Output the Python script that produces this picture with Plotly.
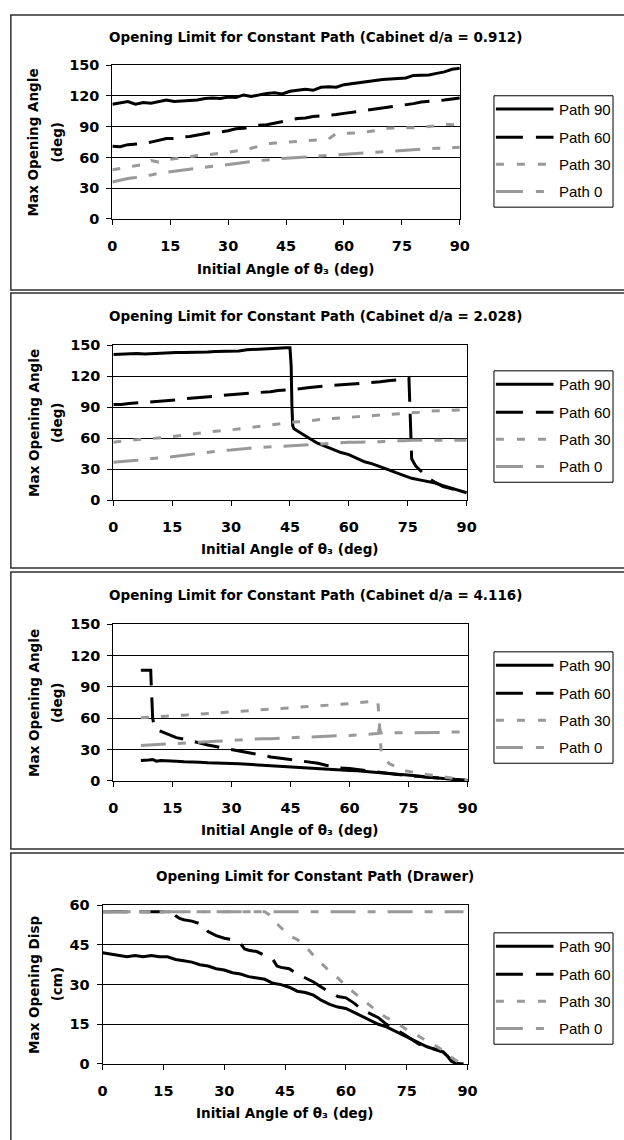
import plotly.graph_objects as go

# ---------------- data ----------------
grid2 = [0, 2, 4, 6, 8, 10, 12, 14, 16, 18, 20, 22, 24, 26, 28, 30, 32, 34, 36, 38, 40, 42, 44,
         46, 48, 50, 52, 54, 56, 58, 60, 62, 64, 66, 68, 70, 72, 74, 76, 78, 80, 82, 84, 86, 88, 90]

# Panel 1: Cabinet d/a = 0.912
p1_y90 = [112, 113, 114.5, 112, 113.5, 113, 114.5, 116, 114.5, 115, 115.5, 116, 117.5, 118, 117.5, 119,
          118.5, 121, 119.5, 121, 122.5, 123, 122, 124.5, 125.5, 126.5, 125.5, 128.5, 129, 128.5, 131, 132,
          133, 134.5, 135.5, 136, 136.5, 137, 137.5, 140, 140, 140.5, 142, 143.5, 146, 147]
p1_y60 = [71, 70.5, 72.5, 73, 73.5, 75, 76.5, 78.5, 78.5, 80, 80.5, 82, 83.5, 84.5, 85, 86, 88, 88.5, 90,
          91.5, 92, 93.5, 95, 97, 98, 98.5, 100, 100.5, 101, 102, 103, 104, 105.5, 106.5, 107, 108.5, 109,
          110, 111, 112.5, 114, 114.5, 115.5, 116, 117, 118]
p1_y30 = [48, 49, 50.5, 52, 53, 57, 55.5, 58, 58.5, 59.5, 60.5, 62, 62.5, 63, 64, 65, 66, 67.5, 69, 71,
          73, 74, 74.5, 75, 76, 76.5, 77, 77.5, 78, 83.5, 83.5, 84, 84, 85, 86, 88.5, 88.5, 88.5, 89, 89,
          89.5, 90, 91, 92.5, 92, 92.5]
p1_y0 = [36, 38, 39.5, 40.5, 41.5, 43, 44.5, 45.5, 46.5, 48, 49, 50, 51, 51.5, 52, 53, 54, 55.5, 56, 57,
         57.5, 58.5, 59, 59.5, 60, 61, 61.5, 62, 62.5, 63, 63.5, 64, 64.5, 65, 65.5, 66, 66.5, 67, 67.5, 68,
         68, 68.5, 69, 69, 69.5, 70]

# Panel 2: Cabinet d/a = 2.028
p2_x90 = [0, 2, 4, 6, 8, 10, 12, 14, 16, 18, 20, 22, 24, 26, 28, 30, 32, 34, 36, 38, 40, 42, 44, 45, 45.3,
          45.5, 45.7, 46, 48, 50, 52, 54, 56, 58, 60, 62, 64, 66, 68, 70, 72, 74, 76, 78, 80, 82, 84, 86,
          88, 90]
p2_y90 = [141, 141.5, 141.5, 142, 141.5, 142, 142, 142.5, 143, 143, 143, 143.5, 143.5, 144, 144, 144,
          144.5, 145.5, 146, 146.5, 146.5, 147, 147.5, 147.5, 130, 90, 72, 69, 64, 59.5, 55, 52, 48.5, 46,
          44, 40.5, 37, 35, 32.5, 29.5, 26.5, 23.5, 21, 19.5, 18, 16.5, 14, 11.5, 9, 7]
p2_x60 = [0, 2, 4, 6, 8, 10, 12, 14, 16, 18, 20, 22, 24, 26, 28, 30, 32, 34, 36, 38, 40, 42, 44, 46, 48,
          50, 52, 54, 56, 58, 60, 62, 64, 66, 68, 70, 72, 74, 75.3, 75.5, 75.7, 76, 77, 78, 80, 82, 84, 86,
          88, 90]
p2_y60 = [92.5, 92.5, 93.5, 94, 94.5, 95, 96, 96.5, 97, 98, 98.5, 99, 100, 100.5, 101.5, 102, 102.5,
          103.5, 104, 104.5, 105, 106, 106.5, 107, 108, 109, 110, 110.5, 111, 111.5, 112, 112.5, 113, 114,
          114.5, 115.5, 116, 117, 118.5, 90, 60, 40, 33, 29, 22, 17, 13, 11, 9, 7]
p2_y30 = [56, 57, 58, 58.5, 59, 59.5, 60, 61, 62, 63, 64, 65, 66, 66.5, 67.5, 68, 69, 70, 71, 71.5, 72.5,
          73.5, 74.5, 75.5, 76, 77, 77.5, 78.5, 79, 79.5, 80, 80.5, 81, 82, 82.5, 83, 83.5, 84, 84.5, 85, 86,
          86, 86.5, 87, 87, 87.5]
p2_y0 = [36.5, 37, 38, 38.5, 39.5, 40, 40.5, 41.5, 42.5, 43.5, 44.5, 45, 46, 47, 48, 48.5, 49.5, 50, 50.5,
         51, 51.5, 52, 52.5, 53, 53.5, 54, 54.5, 55, 55, 55.5, 56, 56, 56, 56.5, 56.5, 57, 57, 57.5, 58, 58,
         58.5, 58.5, 58, 58, 58, 58]

# Panel 3: Cabinet d/a = 4.116
p3_x90 = [7, 8, 9, 10, 11, 12, 14, 16, 18, 20, 22, 24, 26, 28, 30, 32, 34, 36, 38, 40, 42, 44, 46, 48, 50,
          52, 54, 56, 58, 60, 62, 64, 66, 68, 70, 72, 74, 76, 78, 80, 82, 84, 86, 88, 90]
p3_y90 = [19.5, 19.5, 20, 20.5, 19, 19.5, 19.5, 19, 18.5, 18.5, 18, 17.5, 17.5, 17, 16.8, 16.5, 16, 15.5,
          15, 14.5, 14, 13.5, 13, 12.5, 12, 12, 11.5, 11, 10.5, 10, 9.8, 9, 8.5, 8, 7, 6.5, 6, 5.5, 4.5, 3.5,
          3, 2.5, 1.8, 1, 0.5]
p3_x60 = [7, 9.5, 9.6, 9.7, 9.8, 10, 10.5, 12, 14, 16, 18, 20, 22, 24, 26, 28, 30, 32, 34, 36, 38, 40, 42,
          44, 46, 48, 50, 52, 54, 56, 58, 60, 62, 64, 66, 68, 70, 72, 74, 76, 78, 80, 82, 84, 86, 88, 90]
p3_y60 = [106, 106, 95, 85, 70, 60, 50, 47.5, 44.5, 41.5, 40, 38, 36, 34.5, 33, 31.5, 30, 29, 27.5, 26,
          24.5, 23, 22, 21, 20, 19, 18, 17, 15, 13.5, 12.5, 12, 11, 10, 9, 8, 7, 6, 5.5, 5, 4, 3.5, 3, 2.5,
          2, 1, 0.5]
p3_x30 = [7, 10, 12, 14, 16, 18, 20, 22, 24, 26, 28, 30, 32, 34, 36, 38, 40, 42, 44, 46, 48, 50, 52, 54,
          56, 58, 60, 62, 64, 66, 67.2, 67.5, 67.8, 68, 69, 70, 72, 74, 76, 78, 80, 82, 84, 86, 88, 90]
p3_y30 = [60.5, 61, 61.5, 62, 62.5, 63, 63.5, 64, 64.5, 65, 65.5, 66.5, 67, 67.5, 68, 68.5, 69, 69.5, 70,
          70.5, 71, 71.5, 72, 72.5, 73, 73.5, 74, 75, 75.5, 76, 76.5, 60, 40, 30, 22, 17, 13, 10, 8.5, 7, 6,
          5, 4, 3, 1.5, 0.5]
p3_x0 = [7, 10, 12, 14, 16, 18, 20, 22, 24, 26, 28, 30, 32, 34, 36, 38, 40, 42, 44, 46, 48, 50, 52, 54, 56,
         58, 60, 62, 64, 66, 67.3, 67.6, 67.9, 70, 72, 74, 76, 78, 80, 82, 84, 86, 88, 90]
p3_y0 = [34, 34.5, 35, 35.5, 36, 36.5, 36.5, 37, 37.5, 38, 38.5, 38.5, 39, 39.5, 40, 40.5, 40.5, 41, 41.5,
         41.5, 42, 42, 42.5, 43, 43, 43.5, 43.5, 44, 44.5, 45, 45.5, 52, 46, 46, 46, 46.5, 46.5, 46.5, 46.5,
         46.5, 46.5, 47, 47, 47]

# Panel 4: Drawer
p4_x90 = [0, 2, 4, 6, 8, 10, 12, 14, 16, 18, 20, 22, 24, 26, 28, 30, 32, 34, 36, 38, 40, 42, 44, 46, 48,
          50, 52, 54, 56, 58, 60, 62, 64, 66, 68, 70, 72, 74, 76, 78, 80, 82, 84, 85, 86, 87, 89]
p4_y90 = [42, 41.5, 41, 40.5, 41, 40.5, 41, 40.5, 40.5, 39.5, 39, 38.5, 37.5, 37, 36, 35.5, 34.5, 34, 33,
          32.5, 32, 30.5, 30, 29, 27.5, 27, 26, 24, 22.5, 21.5, 21, 19.5, 18, 16.5, 15, 14, 12.5, 11, 9.5, 8,
          6.5, 5.5, 4.5, 3, 1, 0.3, 0]
p4_x60 = [0, 8, 15, 17, 18, 19, 20, 22, 24, 25, 26, 28, 30, 32, 34, 35, 36, 38, 40, 42, 43, 44, 46, 47,
          48, 50, 52, 54, 55, 56, 58, 60, 62, 64, 66, 68, 70, 72, 74, 76, 78, 80, 82, 84, 85, 86, 87, 88]
p4_y60 = [57.5, 57.5, 57.5, 57.5, 56, 55, 54.5, 54, 53, 52.5, 50, 48.5, 47.5, 47, 45.5, 43.5, 43, 42.5,
          41, 39.5, 37, 36.5, 36, 35, 34, 32.5, 31, 29, 28, 27.5, 25.5, 25, 23, 20.5, 19, 17.5, 15, 13,
          11.5, 9.5, 7.5, 6.5, 5.5, 4.5, 3, 1.5, 0.5, 0]
p4_x30 = [0, 10, 20, 30, 40, 41, 42, 44, 46, 48, 50, 52, 54, 56, 58, 60, 62, 64, 66, 68, 70, 72, 74, 76,
          78, 80, 82, 84, 86, 87, 88]
p4_y30 = [57.5, 57.5, 57.5, 57.5, 57.5, 56.5, 54.5, 51.5, 48.5, 47, 44.5, 41, 38, 35, 32.5, 29.5, 27,
          24.5, 22, 19.5, 17.5, 16, 14, 12, 10.5, 8.5, 7, 5, 2.5, 1.5, 0.5]
p4_x0 = [0, 15, 30, 45, 60, 75, 89]
p4_y0 = [57.5, 57.5, 57.5, 57.5, 57.5, 57.5, 57.5]

series_names = ["Path 90", "Path 60", "Path 30", "Path 0"]
titles = ["Opening Limit for Constant Path (Cabinet d/a = 0.912)",
          "Opening Limit for Constant Path (Cabinet d/a = 2.028)",
          "Opening Limit for Constant Path (Cabinet d/a = 4.116)",
          "Opening Limit for Constant Path (Drawer)"]
ytitles = [("Max Opening Angle", "(deg)"), ("Max Opening Angle", "(deg)"),
           ("Max Opening Angle", "(deg)"), ("Max Opening Disp", "(cm)")]
xtitle = "Initial Angle of θ₃ (deg)"
x_ticks = [0, 15, 30, 45, 60, 75, 90]
y_ticks_angle = [0, 30, 60, 90, 120, 150]
y_ticks_disp = [0, 15, 30, 45, 60]

panel_data = [
    {"Path 90": (grid2, p1_y90), "Path 60": (grid2, p1_y60), "Path 30": (grid2, p1_y30), "Path 0": (grid2, p1_y0)},
    {"Path 90": (p2_x90, p2_y90), "Path 60": (p2_x60, p2_y60), "Path 30": (grid2, p2_y30), "Path 0": (grid2, p2_y0)},
    {"Path 90": (p3_x90, p3_y90), "Path 60": (p3_x60, p3_y60), "Path 30": (p3_x30, p3_y30), "Path 0": (p3_x0, p3_y0)},
    {"Path 90": (p4_x90, p4_y90), "Path 60": (p4_x60, p4_y60), "Path 30": (p4_x30, p4_y30), "Path 0": (p4_x0, p4_y0)},
]
y_tick_sets = [y_ticks_angle, y_ticks_angle, y_ticks_angle, y_ticks_disp]

# ---------------- layout geometry (pixels) ----------------
W, H = 624, 1140
def px(x): return x / W
def py(y): return 1 - y / H

# plot area: left, right, top, bottom
plot_box = [(110, 466, 58, 214), (111, 473, 342, 499), (111, 474, 625, 784), (100, 474, 910, 1071)]
panel_box = [(6, 7, 286), (6, 289, 568), (6, 572, 853), (6, 857, 1160)]
title_y = [29, 312, 595, 880]
xtitle_y = [265, 549, 834, 1121]
legend_top = [89, 368, 653, 938]
legend_item_dy = [13.5, 42, 69.5, 97]
LEG_H = 113

BLACK = "#000000"
GRAY = "#999999"
styles = {
    "Path 90": dict(color=BLACK, dash="solid", width=3),
    "Path 60": dict(color=BLACK, dash="25px,12px", width=3),
    "Path 30": dict(color=GRAY, dash="8px,12px", width=3),
    "Path 0": dict(color=GRAY, dash="25px,12px,8px,12px", width=3),
}
legend_dash = {"Path 90": "solid", "Path 60": "27px,13px", "Path 30": "8px,13px",
               "Path 0": "27px,13px,8px,13px"}
draw_order = ["Path 90", "Path 60", "Path 30", "Path 0"]  # later series drawn on top

TICKFONT = dict(family="DejaVu Sans", size=14.5, color="black", weight="bold")
TITLEFONT = dict(family="DejaVu Sans", size=13.5, color="black", weight="bold")
LEGFONT = dict(family="Liberation Sans", size=15, color="black")

fig = go.Figure()
layout = dict(width=W, height=H, margin=dict(l=0, r=0, t=0, b=0),
              paper_bgcolor="white", plot_bgcolor="white", showlegend=False)
annotations = []
shapes = []

for i in range(4):
    n = i + 1
    xa = "x" if n == 1 else f"x{n}"
    ya = "y" if n == 1 else f"y{n}"
    for name in draw_order:
        xs, ys = panel_data[i][name]
        st = styles[name]
        fig.add_trace(go.Scatter(
            x=xs, y=ys, mode="lines", name=name, xaxis=xa, yaxis=ya,
            line=dict(color=st["color"], dash=st["dash"], width=st["width"]),
            hoverinfo="skip", showlegend=False))
    l, r, t, b = plot_box[i]
    yt = y_tick_sets[i]
    layout["xaxis" if n == 1 else f"xaxis{n}"] = dict(
        domain=[px(l), px(r)], anchor=ya, range=[0, 90], tickvals=x_ticks,
        showgrid=False, zeroline=False, showline=True, linecolor="black", linewidth=1,
        mirror=True, ticks="outside", ticklen=5, tickcolor="black", tickwidth=1,
        tickfont=TICKFONT, ticklabelstandoff=9, fixedrange=True)
    layout["yaxis" if n == 1 else f"yaxis{n}"] = dict(
        domain=[py(b), py(t)], anchor=xa, range=[yt[0], yt[-1]], tickvals=yt,
        showgrid=True, gridcolor="black", gridwidth=1, zeroline=False, showline=True,
        linecolor="black", linewidth=1, mirror=True, ticks="outside", ticklen=5,
        tickcolor="black", tickwidth=1, tickfont=TICKFONT, ticklabelstandoff=4, fixedrange=True)

    # titles
    annotations.append(dict(text=titles[i], x=px(318), y=py(title_y[i]), xref="paper", yref="paper",
                            showarrow=False, xanchor="center", yanchor="middle", font=TITLEFONT))
    annotations.append(dict(text=xtitle, x=px((l + r) / 2), y=py(xtitle_y[i]), xref="paper", yref="paper",
                            showarrow=False, xanchor="center", yanchor="middle", font=TITLEFONT))
    yc = (t + b) / 2
    annotations.append(dict(text=ytitles[i][0], x=px(29), y=py(yc), xref="paper", yref="paper",
                            showarrow=False, textangle=-90, xanchor="center", yanchor="middle", font=TITLEFONT))
    annotations.append(dict(text=ytitles[i][1], x=px(53), y=py(yc), xref="paper", yref="paper",
                            showarrow=False, textangle=-90, xanchor="center", yanchor="middle", font=TITLEFONT))

    # panel frame
    pl, pt, pb = panel_box[i]
    shapes.append(dict(type="rect", xref="paper", yref="paper", x0=px(pl), x1=px(640), y0=py(pb), y1=py(pt),
                       line=dict(color="#303030", width=1.5), layer="below"))

    # legend box with line samples and labels
    lt = legend_top[i]
    shapes.append(dict(type="rect", xref="paper", yref="paper", x0=px(501), x1=px(623),
                       y0=py(lt + LEG_H), y1=py(lt), line=dict(color="black", width=1),
                       fillcolor="white", layer="above"))
    for k, name in enumerate(series_names):
        yy = lt + legend_item_dy[k]
        shapes.append(dict(type="line", xref="paper", yref="paper", x0=px(503), x1=px(562),
                           y0=py(yy), y1=py(yy), layer="above",
                           line=dict(color=styles[name]["color"], width=3, dash=legend_dash[name])))
        annotations.append(dict(text=name, x=px(566), y=py(yy), xref="paper", yref="paper",
                                showarrow=False, xanchor="left", yanchor="middle", font=LEGFONT))

layout["annotations"] = annotations
layout["shapes"] = shapes
fig.update_layout(**layout)
fig.write_html("out.html", config={"displayModeBar": False, "staticPlot": True},
               post_script="document.documentElement.style.margin='0';"
                           "document.body.style.margin='0';"
                           "document.body.style.overflow='hidden';")
